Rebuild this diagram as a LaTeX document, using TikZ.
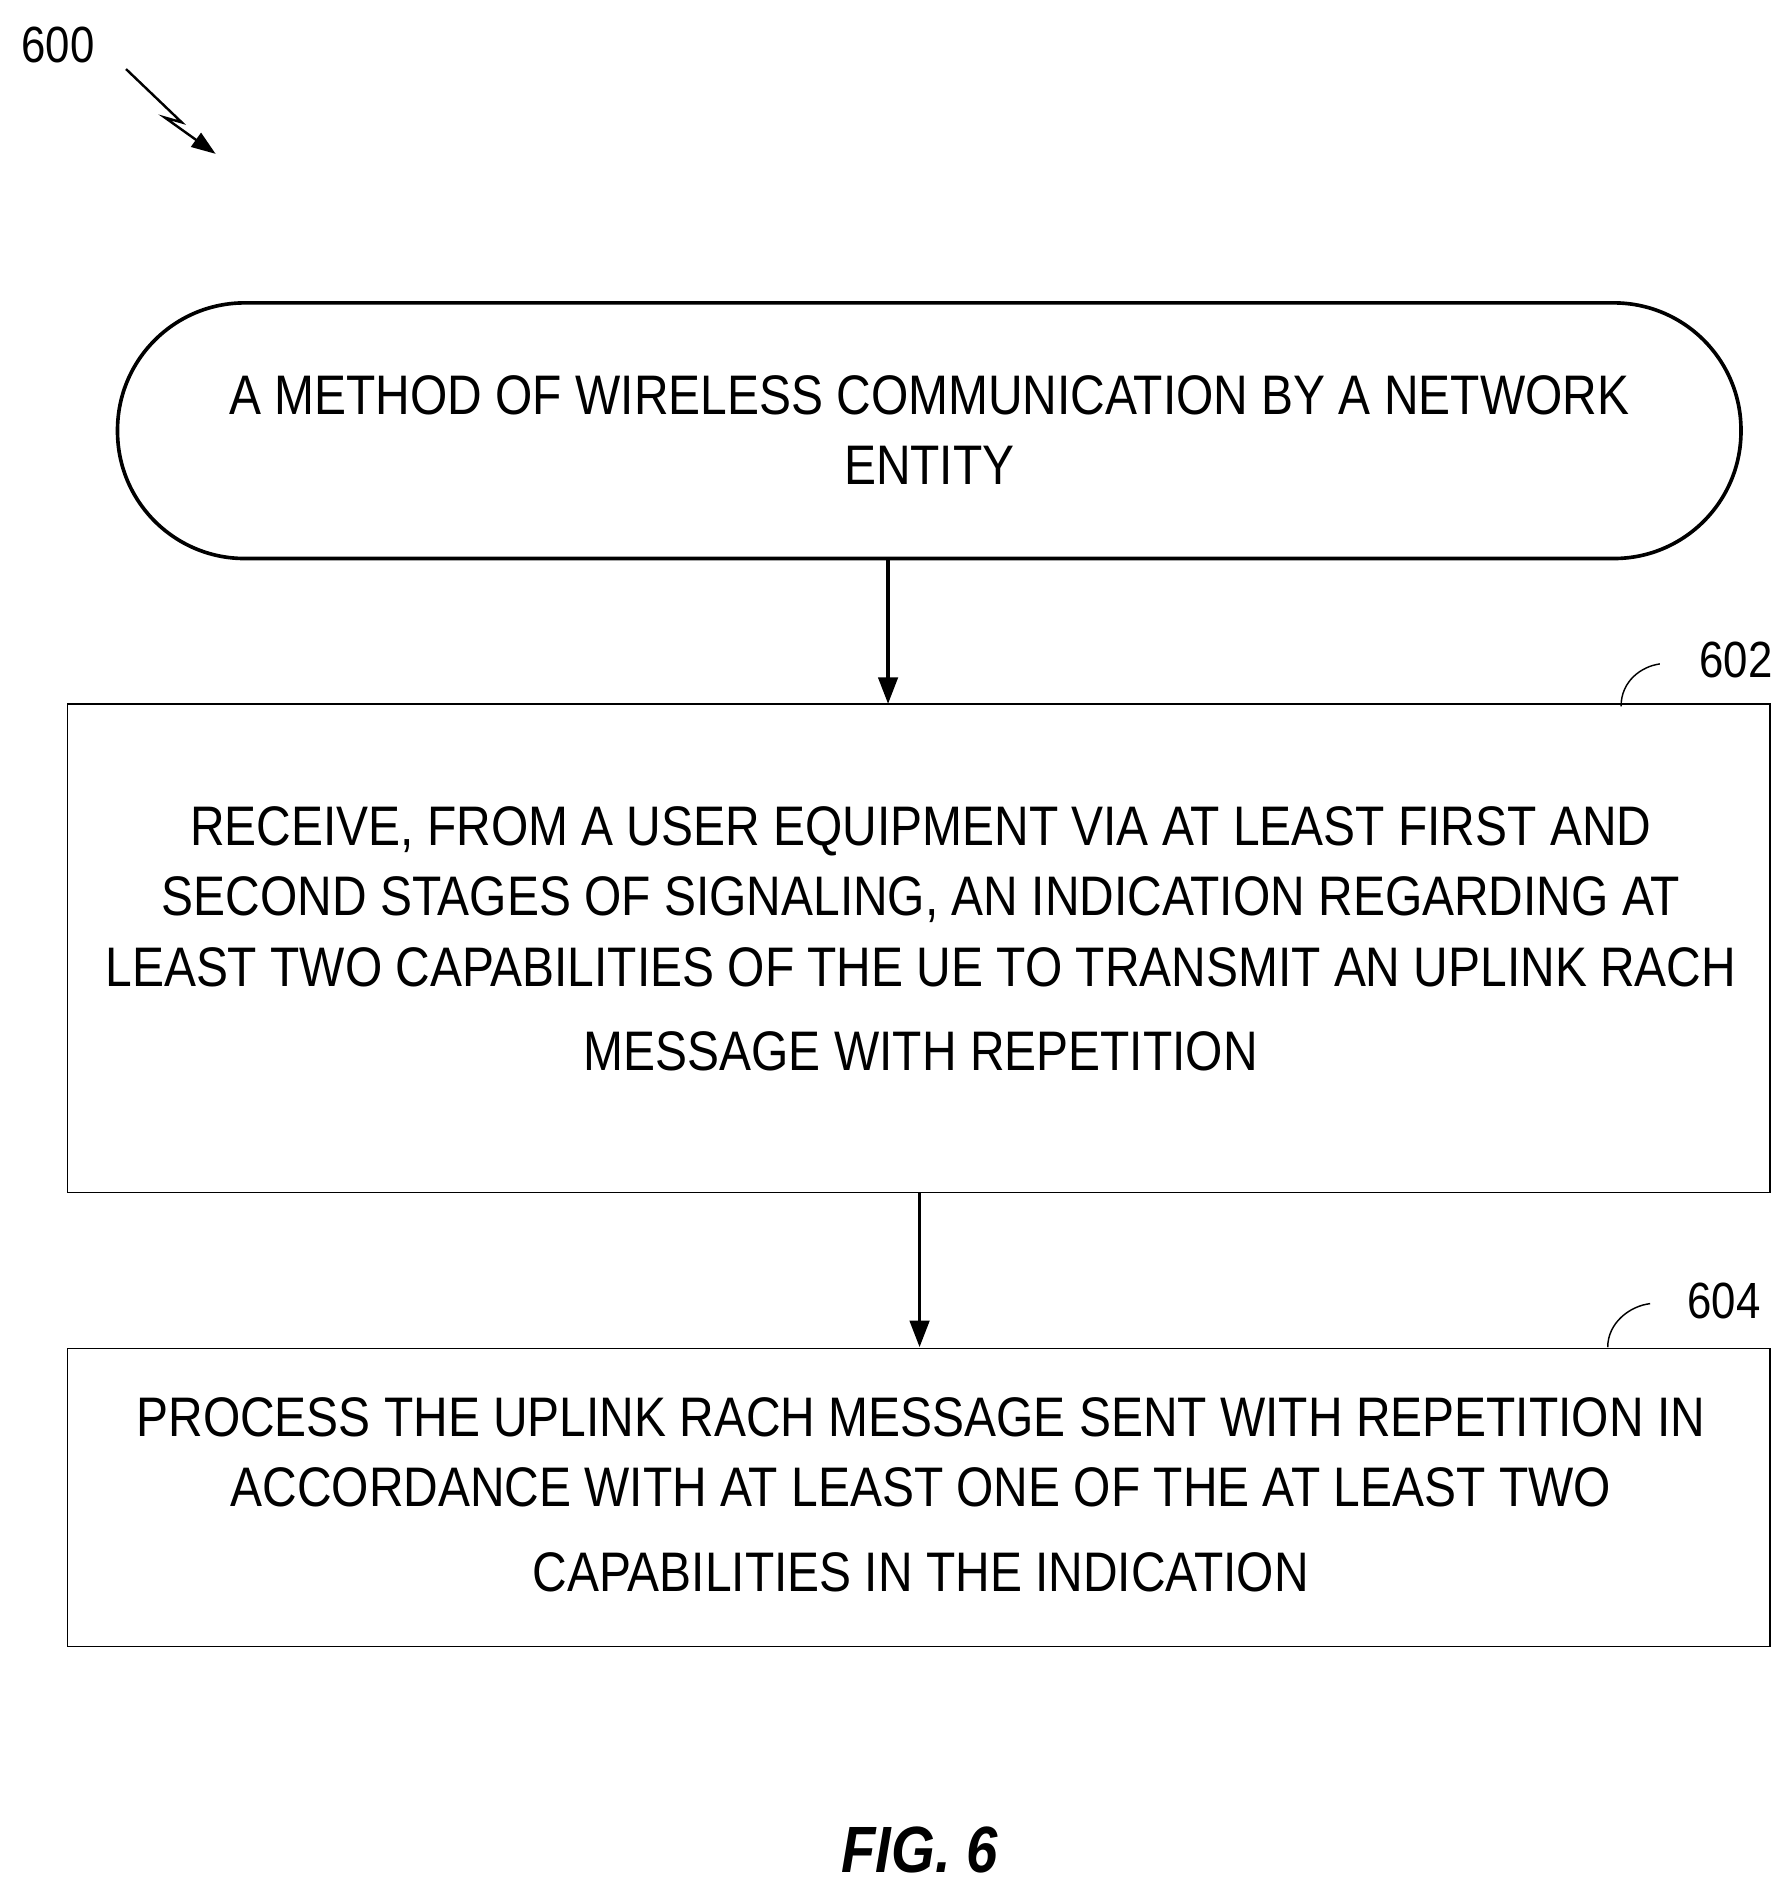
\documentclass[tikz,border=0pt]{standalone}
\usepackage{fontspec}
\setmainfont{Liberation Sans}[FakeStretch=0.86]
\usetikzlibrary{arrows.meta}
\begin{document}
\begin{tikzpicture}[x=1pt,y=-1pt,
  txt/.style={align=center,font=\fontsize{46}{58}\selectfont},
  box/.style={draw,line width=1pt},
  arr/.style={line width=3pt,-{Triangle[length=22pt,width=16pt]}},
  lbl/.style={font=\fontsize{42}{48}\selectfont}]
\useasboundingbox (0,0) rectangle (1477,1560);
\draw[line width=3pt,rounded corners=105pt] (97,250) rectangle (1437,461);
\node[txt] (start) at (767,355) {A METHOD OF WIRELESS COMMUNICATION BY A NETWORK\\ENTITY};
\coordinate (sb) at (733,461);
\node[box,minimum width=1405pt,minimum height=403pt] (b602) at (758.5,782.5) {};
\node[txt] at (760,775) {RECEIVE, FROM A USER EQUIPMENT VIA AT LEAST FIRST AND\\SECOND STAGES OF SIGNALING, AN INDICATION REGARDING AT\\LEAST TWO CAPABILITIES OF THE UE TO TRANSMIT AN UPLINK RACH\\[12pt]MESSAGE WITH REPETITION};
\node[box,minimum width=1405pt,minimum height=246pt] (b604) at (758.5,1236) {};
\node[txt] at (760,1234) {PROCESS THE UPLINK RACH MESSAGE SENT WITH REPETITION IN\\ACCORDANCE WITH AT LEAST ONE OF THE AT LEAST TWO\\[12pt]CAPABILITIES IN THE INDICATION};
\draw[arr] (sb) -- (733,581);
\draw[arr] (759,984) -- (759,1112);
\node[lbl] (l602) at (1433,545) {602};
\node[lbl] (l604) at (1423,1074) {604};
\node[lbl] (l600) at (48,37) {600};
\draw[line width=1.2pt] (1338,583) .. controls (1338,562) and (1355,550) .. (1370,548);
\draw[line width=1.2pt] (1327,1112) .. controls (1327,1092) and (1345,1078) .. (1362,1076);
\draw[line width=2pt,-{Triangle[length=20pt,width=14pt]}] (104,57) -- (150,101) -- (136,97) -- (178,127);
\node[font=\fontsize{54}{60}\selectfont\bfseries\itshape] (fig) at (759,1527) {FIG. 6};
\end{tikzpicture}
\end{document}
